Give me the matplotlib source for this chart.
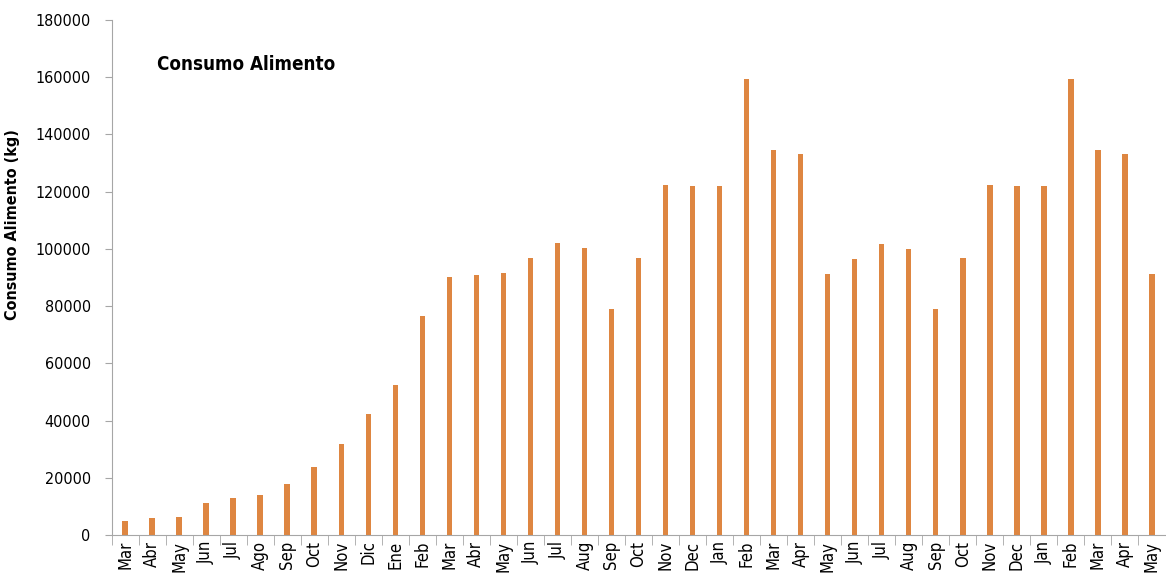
# Consumo de alimento mensual (kg)
import numpy as np
import matplotlib.pyplot as plt

meses = ['Mar', 'Abr', 'May', 'Jun', 'Jul', 'Ago', 'Sep', 'Oct', 'Nov', 'Dic', 'Ene',
         'Feb', 'Mar', 'Abr', 'May', 'Jun', 'Jul', 'Aug', 'Sep', 'Oct', 'Nov', 'Dec',
         'Jan', 'Feb', 'Mar', 'Apr', 'May', 'Jun', 'Jul', 'Aug', 'Sep', 'Oct', 'Nov',
         'Dec', 'Jan', 'Feb', 'Mar', 'Apr', 'May']
consumo = [4900, 5800, 6200, 11300, 12800, 13900, 17900, 23900, 31800, 42200, 52400,
           76600, 90100, 90800, 91500, 96700, 101900, 100300, 78900, 96700, 122400, 121900,
           121900, 159400, 134600, 133100, 91100, 96400, 101600, 100000, 78900, 96700, 122400,
           121900, 121900, 159400, 134600, 133100, 91100]

plt.rcParams['font.family'] = ['DejaVu Sans']
plt.rcParams['font.stretch'] = 'condensed'

x = np.arange(len(meses))
gris = '#A6A6A6'

fig = plt.figure(figsize=(11.66, 5.77), dpi=100)
ax = fig.add_axes([111.5 / 1166, 1 - 535 / 577, (1165.5 - 111.5) / 1166, (535 - 20) / 577])

ax.bar(x, consumo, width=0.2, color='#DE8641')

ax.set_xlim(-0.5, len(meses) - 0.5)
ax.set_ylim(0, 180000)
ax.set_yticks(np.arange(0, 180001, 20000))
ax.tick_params(axis='y', labelsize=11.5, length=5, color=gris, pad=10)

ax.set_xticks(x)
ax.set_xticklabels(meses, rotation=90, fontsize=12)
ax.tick_params(axis='x', length=0, pad=4)
# marcas entre categorias
ax.set_xticks(np.arange(-0.5, len(meses)), minor=True)
ax.tick_params(axis='x', which='minor', length=7, color=gris)

for s in ['top', 'right']:
    ax.spines[s].set_visible(False)
for s in ['left', 'bottom']:
    ax.spines[s].set_color(gris)

ax.set_ylabel('Consumo Alimento (kg)', fontsize=11.5, fontweight='bold')
ax.yaxis.set_label_coords(-0.0868, 0.602)
ax.text(0.043, 0.913, 'Consumo Alimento', transform=ax.transAxes,
        fontsize=13.5, fontweight='bold', va='center')

plt.savefig('out.png', dpi=100)
